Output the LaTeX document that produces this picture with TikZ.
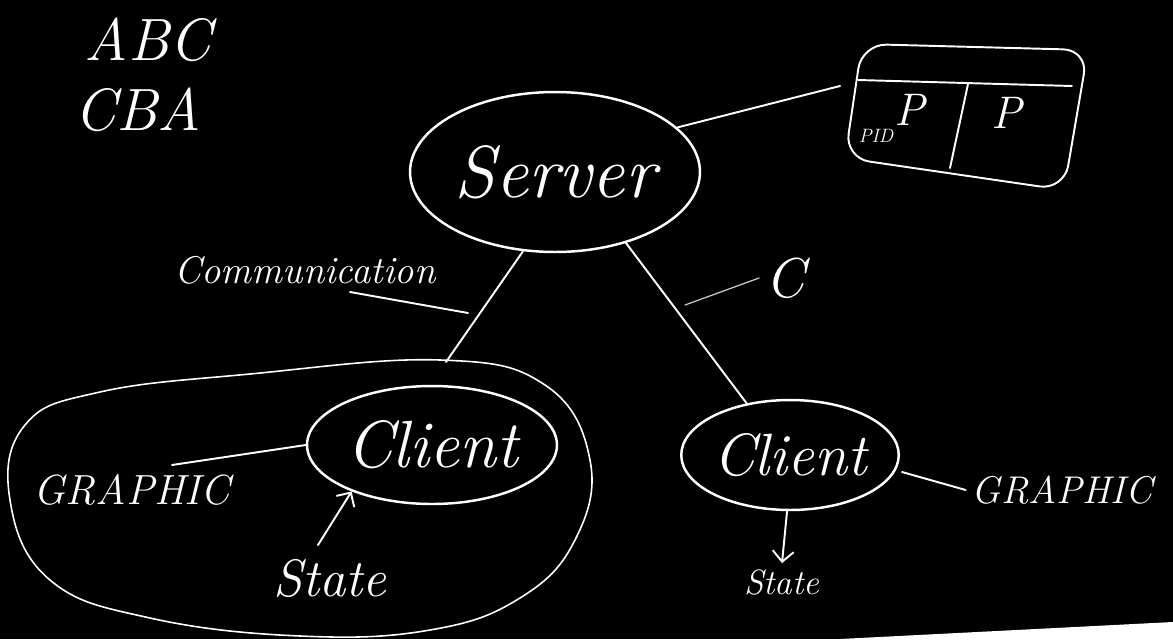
\documentclass[tikz,border=0pt]{standalone}
\usepackage{tikz}
\usetikzlibrary{arrows.meta, positioning, shapes.geometric}

\begin{document}
\begin{tikzpicture}[
  x=0.02cm, y=-0.02cm,
  chalk/.style={draw=white, line width=1.1pt, line cap=round, line join=round},
  thinchalk/.style={draw=white!80!black, line width=0.7pt, line cap=round},
  bubble/.style={ellipse, draw=white, line width=1.4pt, text=white, inner sep=0pt},
  hand/.style={text=white, font=\itshape},
  arr/.style={-{Straight Barb[length=6pt]}, chalk},
]
% board
\fill[black] (0,0) rectangle (1173,639);
\fill[white] (840,639) -- (1173,622) -- (1173,639) -- cycle;

% letters top left
\node[hand, font=\fontsize{34}{34}\selectfont\itshape] (abc) at (148,40) {ABC};
\node[hand, font=\fontsize{34}{34}\selectfont\itshape] (cba) at (138,110) {CBA};

% server
\node[bubble, minimum width=5.8cm, minimum height=3.2cm,
      font=\fontsize{42}{42}\selectfont\itshape] (server) at (555,172) {Server};

% process table
\draw[chalk, rounded corners=14pt] (862,44) -- (1088,50) -- (1064,190) -- (845,158) -- cycle;
\draw[chalk] (858,80) -- (1072,86);
\draw[chalk] (968,84) -- (950,168);
\coordinate (tabL) at (840,86);
\node[hand, font=\fontsize{11}{11}\selectfont\itshape] (pid) at (876,136) {PID};
\node[hand, font=\fontsize{26}{26}\selectfont\itshape] (p1) at (910,110) {P};
\node[hand, font=\fontsize{26}{26}\selectfont\itshape] (p2) at (1007,113) {P};
\draw[chalk] (server.20) -- (tabL);

% clients
\node[bubble, minimum width=5cm, minimum height=2.36cm,
      font=\fontsize{38}{38}\selectfont\itshape] (clientL) at (432,445) {Client};
\node[bubble, minimum width=3.9cm, minimum height=2.2cm,
      font=\fontsize{34}{34}\selectfont\itshape] (clientR) at (790,455) {Client};

\coordinate (grpTop) at (446,362);
\draw[chalk] (server.-112) -- (grpTop);
\draw[chalk] (server.-45) -- (clientR.130);

% labels on the links
\node[hand, font=\fontsize{22}{22}\selectfont\itshape] (comm) at (305,270) {Communication};
\coordinate (commStart) at (350,292);
\coordinate (commEnd) at (468,313);
\draw[chalk] (commStart) -- (commEnd);
\node[hand, font=\fontsize{32}{32}\selectfont\itshape] (clbl) at (785,278) {C};
\coordinate (cdash) at (685,305);
\draw[thinchalk] (cdash) -- (clbl.west);

% left group
\draw[chalk, line width=0.9pt] plot[smooth cycle, tension=0.7] coordinates {
  (440,360) (545,385) (590,460) (575,540) (520,598) (430,630) (300,636)
  (150,618) (50,580) (10,500) (25,425) (100,392) (250,374)};
\node[hand, font=\fontsize{24}{24}\selectfont\itshape] (graphL) at (132,490) {GRAPHIC};
\coordinate (gL) at (172,465);
\draw[chalk] (gL) -- (clientL.west);
\node[hand, font=\fontsize{30}{30}\selectfont\itshape] (stateL) at (330,578) {State};
\coordinate (sL) at (318,545);
\draw[arr] (sL) -- (clientL.-150);

% right group
\node[hand, font=\fontsize{22}{22}\selectfont\itshape] (graphR) at (1062,490) {GRAPHIC};
\coordinate (cR) at (902,472);
\draw[chalk] (cR) -- (graphR.west);
\node[hand, font=\fontsize{20}{20}\selectfont\itshape] (stateR) at (782,582) {State};
\draw[arr] (clientR.-93) -- (stateR.north);
\end{tikzpicture}
\end{document}
